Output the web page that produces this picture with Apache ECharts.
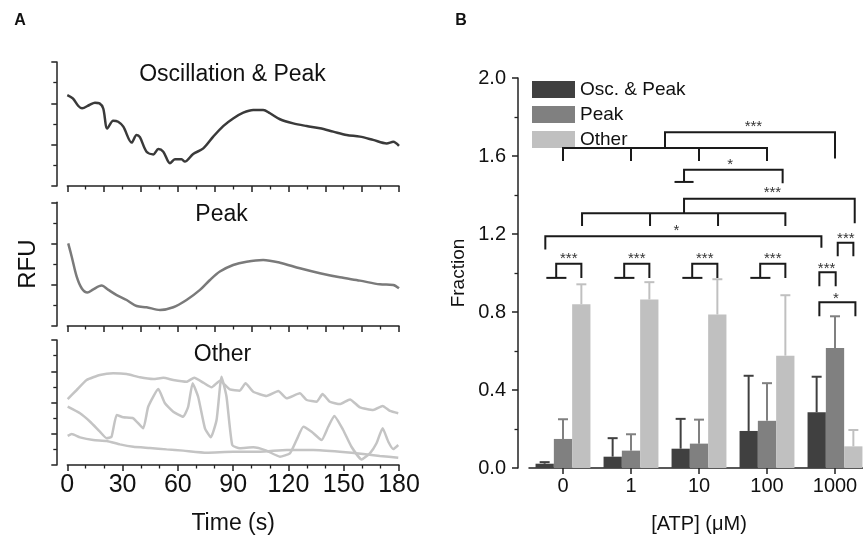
<!DOCTYPE html>
<html><head><meta charset="utf-8">
<script src="https://cdn.jsdelivr.net/npm/echarts@6/dist/echarts.min.js"></script>
<style>html,body{margin:0;padding:0;background:#fff}#c{width:863px;height:539px}</style>
</head><body><div id="c"></div>
<script>
// ---------- Panel A data (time in s, RFU arbitrary units) ----------
const oscTime = [0,3,6,8,12,15,17.5,19.5,21.7,24.9,27.6,30.4,34.9,37.6,39.4,43.0,46.7,49.4,52.1,55.7,58.4,62.0,63.8,68.3,73.8,79.2,84.6,90.0,95.5,100.9,106.3,110,115.4,122.6,129.9,137.1,144.3,151.6,158.8,166.0,173.3,176.9,180];
const oscRFU  = [4.40,4.24,3.87,3.76,3.92,4.03,4.0,3.75,2.78,3.16,3.11,2.87,2.10,2.47,2.36,1.66,1.53,1.79,1.66,1.10,1.29,1.29,1.18,1.55,1.82,2.39,2.90,3.27,3.55,3.68,3.68,3.52,3.23,3.03,2.90,2.79,2.63,2.47,2.39,2.23,2.06,2.14,1.94];

const peakTime = [0.5,2.4,5.1,7.8,10.9,14.1,18.6,22.3,26.8,32.2,37.6,43.0,50.3,57.5,64.7,72.0,77.4,82.8,90.0,97.3,106.3,115.4,126.2,137.1,147.9,158.8,169.6,176.9,180];
const peakRFU  = [4.01,3.36,2.39,1.83,1.62,1.78,1.96,1.75,1.50,1.26,0.97,0.91,0.78,0.91,1.26,1.75,2.23,2.64,2.96,3.12,3.20,3.07,2.80,2.56,2.36,2.20,2.02,1.99,1.83];

const otherATime = [0.2,5.1,10.5,17.7,24.9,32.2,39.4,46.7,52.1,57.5,64.7,68.9,73.8,78.3,82.8,88.2,93.6,96.7,100.9,108.1,114.5,119,126.2,129.9,135.3,138.5,142.5,147.9,153.4,158.8,166,171.1,175.1,179.6];
const otherARFU  = [4.22,4.80,5.44,5.76,5.87,5.82,5.61,5.50,5.58,5.44,5.33,5.59,5.27,4.97,5.40,4.84,4.76,5.23,4.69,4.42,4.74,4.27,4.59,4.16,4.05,4.54,4.05,3.90,4.20,3.69,3.52,3.78,3.46,3.31];

const otherBTime = [0.2,6.9,12.4,17.7,21.4,24.0,26.8,30.4,35.8,41.2,43.9,49.4,53,57.5,62.9,65.6,68,71.0,74.7,77.9,81,83.7,86.4,89.5,93.6,100.9,108.1,115.4,120.8,124.4,128.1,132.6,138,141.6,144.9,149.7,154.2,159.7,164.2,167.8,171.1,174.2,176.9,179.6];
const otherBRFU  = [3.73,3.31,2.77,2.13,1.71,1.81,3.20,3.05,2.99,2.35,3.73,4.86,3.95,3.41,3.09,3.73,5.23,4.37,2.35,1.77,2.88,5.65,4.37,1.28,1.07,1.13,0.92,0.53,0.75,1.60,2.45,2.13,1.60,2.45,3.14,2.24,1.17,0.36,0.75,1.39,2.35,1.49,1.02,1.28];

const otherCTime = [0.2,2.4,6.9,14.1,21.4,28.6,35.8,44.8,53.9,62.9,75.6,90,104.5,119,133.5,147.9,160.6,169.6,179.6];
const otherCRFU  = [1.86,1.98,1.77,1.60,1.54,1.32,1.17,1.09,1.00,0.92,0.79,0.85,0.85,0.96,0.96,0.85,0.70,0.58,0.47];

// ---------- Panel B data ----------
const atpCategories = ['0','1','10','100','1000'];
const seriesNames = ['Osc. & Peak','Peak','Other'];
const oscPeakMean = [0.022,0.058,0.099,0.190,0.286];
const oscPeakErr  = [0.008,0.095,0.153,0.283,0.182];
const peakMean    = [0.149,0.089,0.125,0.242,0.615];
const peakErr     = [0.101,0.084,0.123,0.193,0.163];
const otherMean   = [0.840,0.864,0.787,0.576,0.111];
const otherErr    = [0.102,0.089,0.181,0.310,0.084];

// significance brackets, in (category position, fraction) units
const bracketPaths = [
  [[1.5,1.641],[1.5,1.722],[4.0,1.722],[4.0,1.587]],
  [[0,1.575],[0,1.641],[3,1.641],[3,1.575]],
  [[1,1.641],[1,1.575]],
  [[2,1.641],[2,1.575]],
  [[1.78,1.467],[1.78,1.53],[3.23,1.53],[3.23,1.46]],
  [[1.64,1.467],[1.92,1.467]],
  [[1.78,1.306],[1.78,1.381],[4.29,1.381],[4.29,1.255]],
  [[0.28,1.241],[0.28,1.306],[3.27,1.306],[3.27,1.241]],
  [[1.28,1.306],[1.28,1.241]],
  [[2.28,1.306],[2.28,1.241]],
  [[-0.26,1.121],[-0.26,1.189],[3.8,1.189],[3.8,1.13]],
  [[-0.245,0.975],[0.05,0.975]],
  [[-0.1,0.975],[-0.1,1.047],[0.27,1.047],[0.27,0.975]],
  [[0.755,0.975],[1.05,0.975]],
  [[0.9,0.975],[0.9,1.047],[1.27,1.047],[1.27,0.975]],
  [[1.755,0.975],[2.05,0.975]],
  [[1.9,0.975],[1.9,1.047],[2.27,1.047],[2.27,0.975]],
  [[2.755,0.975],[3.05,0.975]],
  [[2.9,0.975],[2.9,1.047],[3.27,1.047],[3.27,0.975]],
  [[4.04,1.086],[4.04,1.155],[4.27,1.155],[4.27,1.086]],
  [[3.77,0.932],[3.77,1.004],[4.01,1.004],[4.01,0.932]],
  [[3.77,0.778],[3.77,0.85],[4.30,0.85],[4.30,0.778]]
];
const sigMarks = [
  ['***',2.80,1.772],['*',2.46,1.575],['***',3.08,1.429],['*',1.667,1.237],
  ['***',4.16,1.198],['***',0.085,1.095],['***',1.085,1.095],['***',2.085,1.095],
  ['***',3.085,1.095],['***',3.876,1.044],['*',4.013,0.889]
];

const FONT = 'Liberation Sans, Arial, Helvetica, sans-serif';
const AX = '#222';
const barColors = ['#404040','#808080','#c0c0c0'];
const barOffset = 0.27;

function pairs(t, v){ return t.map((x,i)=>[x, v[i]]); }

const chart = echarts.init(document.getElementById('c'), null, {renderer:'canvas'});

const aGrids = [
  {left:67.3, width:331.7, top:62, height:124, outerBoundsMode:'none', containLabel:false},
  {left:67.3, width:331.7, top:202.3, height:123.7, outerBoundsMode:'none', containLabel:false},
  {left:67.3, width:331.7, top:340, height:125, outerBoundsMode:'none', containLabel:false}
];
const grids = aGrids.concat([{left:529, width:340, top:78, height:390, outerBoundsMode:'none', containLabel:false}]);

function aXAxis(idx, showLabels){
  return {
    type:'value', gridIndex:idx, min:0, max:180, interval: showLabels ? 30 : 20,
    axisLine:{show:true, onZero:false, lineStyle:{color:AX, width:1.5}},
    axisTick:{show:true, length:6, lineStyle:{color:AX, width:1.5}},
    minorTick:{show:true, splitNumber: showLabels ? 3 : 2, length:3.5, lineStyle:{color:AX, width:1.3}},
    splitLine:{show:false}, minorSplitLine:{show:false},
    axisLabel:{show:showLabels, fontSize:25, fontFamily:FONT, color:'#111', margin:8},
    name: showLabels ? 'Time (s)' : '', nameLocation:'middle', nameGap:47,
    nameTextStyle:{fontSize:23, fontFamily:FONT, color:'#111'}
  };
}
function aYAxis(idx, max, name){
  return {
    type:'value', gridIndex:idx, min:0, max:max, interval:2, offset:10.5,
    axisLine:{show:true, onZero:false, lineStyle:{color:AX, width:1.5}},
    axisTick:{show:true, length:5.5, lineStyle:{color:AX, width:1.5}},
    minorTick:{show:true, splitNumber:2, length:3.5, lineStyle:{color:AX, width:1.3}},
    splitLine:{show:false}, minorSplitLine:{show:false},
    axisLabel:{show:false},
    name:name, nameLocation:'middle', nameGap:16, nameRotate:90,
    nameTextStyle:{fontSize:24, fontFamily:FONT, color:'#111'}
  };
}

function lineSeries(idx, data, color, smooth){
  return {type:'line', xAxisIndex:idx, yAxisIndex:idx, data:data, showSymbol:false,
    smooth:smooth, lineStyle:{color:color, width:2.5}, itemStyle:{color:color}, silent:true, animation:false};
}

const means = [oscPeakMean, peakMean, otherMean];
const errs = [oscPeakErr, peakErr, otherErr];

const barSeries = seriesNames.map((n,k)=>({
  name:n, type:'bar', xAxisIndex:3, yAxisIndex:3, data:means[k],
  barWidth:18.3, barGap:'0%', itemStyle:{color:barColors[k]}, animation:false
}));

const errSeries = seriesNames.map((n,k)=>({
  type:'custom', xAxisIndex:4, yAxisIndex:3, z:3, animation:false, silent:true,
  data: means[k].map((m,i)=>[i + (k-1)*barOffset, m, m + errs[k][i]]),
  encode:{x:0, y:[1,2]},
  renderItem:function(params, api){
    const b = api.coord([api.value(0), api.value(1)]);
    const t = api.coord([api.value(0), api.value(2)]);
    const st = {stroke:barColors[k], lineWidth:2};
    return {type:'group', children:[
      {type:'line', shape:{x1:b[0], y1:b[1], x2:t[0], y2:t[1]}, style:st},
      {type:'line', shape:{x1:t[0]-5, y1:t[1], x2:t[0]+5, y2:t[1]}, style:st}
    ]};
  }
}));

const bracketSeries = {
  type:'custom', xAxisIndex:4, yAxisIndex:3, z:4, animation:false, silent:true,
  data: bracketPaths.map(p=>p[0]),
  renderItem:function(params, api){
    const pts = bracketPaths[params.dataIndex].map(p=>api.coord(p));
    return {type:'polyline', shape:{points:pts}, style:{stroke:'#1a1a1a', lineWidth:2, fill:null}};
  }
};
const sigSeries = {
  type:'custom', xAxisIndex:4, yAxisIndex:3, z:4, animation:false, silent:true,
  data: sigMarks.map(s=>[s[1], s[2]]),
  renderItem:function(params, api){
    const p = api.coord([api.value(0), api.value(1)]);
    return {type:'text', x:p[0], y:p[1]+4, style:{text:sigMarks[params.dataIndex][0], fill:'#333',
      fontSize:15, fontFamily:FONT, align:'center', verticalAlign:'middle'}};
  }
};

const option = {
  animation:false,
  backgroundColor:'#fff',
  textStyle:{fontFamily:FONT},
  grid: grids,
  legend:{
    data:seriesNames, orient:'vertical', left:527, top:75, itemWidth:43, itemHeight:17, itemGap:6,
    icon:'rect', textStyle:{fontSize:19, fontFamily:FONT, color:'#111'}, selectedMode:false
  },
  xAxis:[
    aXAxis(0,false), aXAxis(1,false), aXAxis(2,true),
    {type:'category', gridIndex:3, data:atpCategories, boundaryGap:true,
      axisLine:{show:true, lineStyle:{color:AX, width:1.5}},
      axisTick:{show:true, alignWithLabel:true, length:6, lineStyle:{color:AX, width:1.5}},
      axisLabel:{fontSize:20, fontFamily:FONT, color:'#111', margin:8},
      name:'[ATP] (\u03BCM)', nameLocation:'middle', nameGap:46,
      nameTextStyle:{fontSize:20, fontFamily:FONT, color:'#111'}},
    {type:'value', gridIndex:3, min:-0.5, max:4.5, show:false}
  ],
  yAxis:[
    aYAxis(0,6,''), aYAxis(1,6,'RFU'), aYAxis(2,8,''),
    {type:'value', gridIndex:3, min:0, max:2, interval:0.4, offset:11,
      axisLine:{show:true, onZero:false, lineStyle:{color:AX, width:1.5}},
      axisTick:{show:true, length:6, lineStyle:{color:AX, width:1.5}},
      minorTick:{show:true, splitNumber:2, length:3.5, lineStyle:{color:AX, width:1.3}},
      splitLine:{show:false}, minorSplitLine:{show:false},
      axisLabel:{fontSize:20, fontFamily:FONT, color:'#111', margin:12, formatter:v=>v.toFixed(1)},
      name:'Fraction', nameLocation:'middle', nameGap:50, nameRotate:90,
      nameTextStyle:{fontSize:19, fontFamily:FONT, color:'#111'}}
  ],
  graphic:[
    {type:'text', x:20, y:21, style:{text:'A', fontSize:16, fontWeight:'bold', fontFamily:FONT, fill:'#111', align:'center', verticalAlign:'middle'}},
    {type:'text', x:461, y:21, style:{text:'B', fontSize:16, fontWeight:'bold', fontFamily:FONT, fill:'#111', align:'center', verticalAlign:'middle'}},
    {type:'text', x:232.5, y:75, style:{text:'Oscillation & Peak', fontSize:23, fontFamily:FONT, fill:'#111', align:'center', verticalAlign:'middle'}},
    {type:'text', x:221.5, y:215, style:{text:'Peak', fontSize:23, fontFamily:FONT, fill:'#111', align:'center', verticalAlign:'middle'}},
    {type:'text', x:222.5, y:355, style:{text:'Other', fontSize:23, fontFamily:FONT, fill:'#111', align:'center', verticalAlign:'middle'}}
  ],
  series:[
    lineSeries(0, pairs(oscTime, oscRFU), '#3a3a3a', 0.3),
    lineSeries(1, pairs(peakTime, peakRFU), '#7a7a7a', 0.3),
    lineSeries(2, pairs(otherATime, otherARFU), '#c4c4c4', 0.15),
    lineSeries(2, pairs(otherBTime, otherBRFU), '#c4c4c4', 0.15),
    lineSeries(2, pairs(otherCTime, otherCRFU), '#c4c4c4', 0.15)
  ].concat(barSeries, errSeries, [bracketSeries, sigSeries])
};
chart.setOption(option);
</script></body></html>
